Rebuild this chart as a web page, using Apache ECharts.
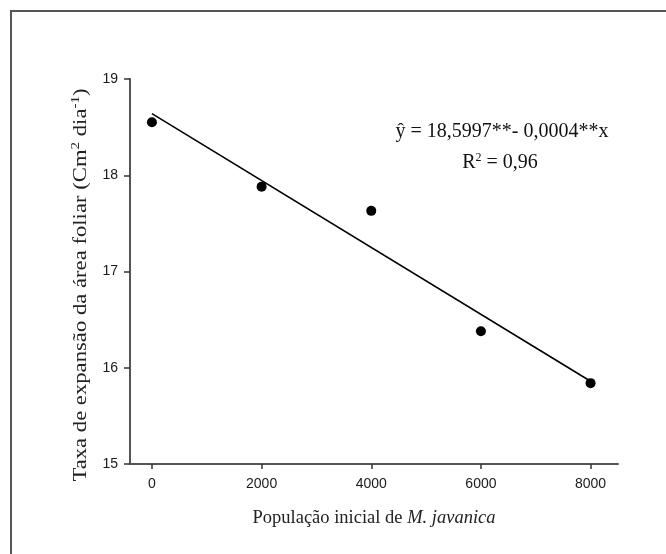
<!DOCTYPE html>
<html><head><meta charset="utf-8">
<script src="https://cdn.jsdelivr.net/npm/echarts@6/dist/echarts.min.js"></script>
<style>html,body{margin:0;padding:0;background:#fff}#c{width:666px;height:554px}</style>
</head><body><div id="c"></div>
<script>
const populations = [0, 2000, 4000, 6000, 8000];
const expansionRates = [18.55, 17.88, 17.63, 16.38, 15.84];
const fitX = [0, 8000];
const fitY = [18.64, 15.86];
const xTicks = [0, 2000, 4000, 6000, 8000];
const yTicks = [15, 16, 17, 18, 19];

const serif = '"Liberation Serif","Times New Roman",serif';
const sans = '"Liberation Sans",Arial,sans-serif';

const chart = echarts.init(document.getElementById('c'), null, {renderer: 'canvas'});
chart.setOption({
  animation: false,
  backgroundColor: '#fff',
  grid: {left: 130, right: 48, top: 79, bottom: 90, containLabel: false},
  xAxis: {
    type: 'value', min: -400, max: 8500,
    splitLine: {show: false},
    axisLine: {onZero: false, lineStyle: {color: '#555', width: 2}},
    axisTick: {show: true, length: 5, customValues: xTicks, lineStyle: {color: '#333', width: 1.5}},
    axisLabel: {customValues: xTicks, margin: 13, color: '#1a1a1a', fontSize: 14, fontFamily: sans, formatter: v => String(v)},
    name: '{n|População inicial de }{i|M. javanica}',
    nameLocation: 'middle', nameGap: 45,
    nameTextStyle: {
      rich: {
        n: {fontFamily: serif, fontSize: 18.5, color: '#222'},
        i: {fontFamily: serif, fontSize: 18.5, fontStyle: 'italic', color: '#222'}
      }
    }
  },
  yAxis: {
    type: 'value', min: 15, max: 19, interval: 1,
    splitLine: {show: false},
    axisLine: {onZero: false, lineStyle: {color: '#555', width: 2}},
    axisTick: {show: true, length: 6, lineStyle: {color: '#333', width: 1.5}},
    axisLabel: {margin: 12, color: '#1a1a1a', fontSize: 14, fontFamily: sans, formatter: v => String(v)}
  },
  series: [
    {
      type: 'line',
      data: fitX.map((x, i) => [x, fitY[i]]),
      showSymbol: false, symbol: 'none',
      lineStyle: {color: '#000', width: 1.6},
      z: 2
    },
    {
      type: 'scatter',
      data: populations.map((x, i) => [x, expansionRates[i]]),
      symbol: 'circle', symbolSize: 10,
      itemStyle: {color: '#000', opacity: 1},
      z: 3
    }
  ],
  graphic: [
    {type: 'rect', shape: {x: 11, y: 11, width: 700, height: 600}, style: {fill: 'none', stroke: '#555', lineWidth: 2}, silent: true},
    {type: 'text', x: 81, y: 285, rotation: Math.PI / 2, scaleX: 1.26,
      style: {
        text: '{n|Taxa de expansão da área foliar (Cm}{s|2}{n| dia}{s|-1}{n|)}',
        align: 'center', verticalAlign: 'middle',
        rich: {
          n: {fontFamily: serif, fontSize: 18, fill: '#222', lineHeight: 22},
          s: {fontFamily: serif, fontSize: 12, fill: '#222', verticalAlign: 'top', lineHeight: 22, padding: [0, 0, 9, 0]}
        }
      }},
    {type: 'text', x: 502, y: 132,
      style: {text: 'ŷ = 18,5997**- 0,0004**x', font: '20px ' + serif, fill: '#111', align: 'center', verticalAlign: 'middle'}},
    {type: 'text', x: 500, y: 163,
      style: {
        text: '{n|R}{s|2}{n| = 0,96}', align: 'center', verticalAlign: 'middle',
        rich: {
          n: {fontFamily: serif, fontSize: 20, fill: '#111', lineHeight: 22},
          s: {fontFamily: serif, fontSize: 12, fill: '#111', verticalAlign: 'top', lineHeight: 22, padding: [0, 0, 9, 0]}
        }
      }}
  ]
});
</script>
</body></html>
